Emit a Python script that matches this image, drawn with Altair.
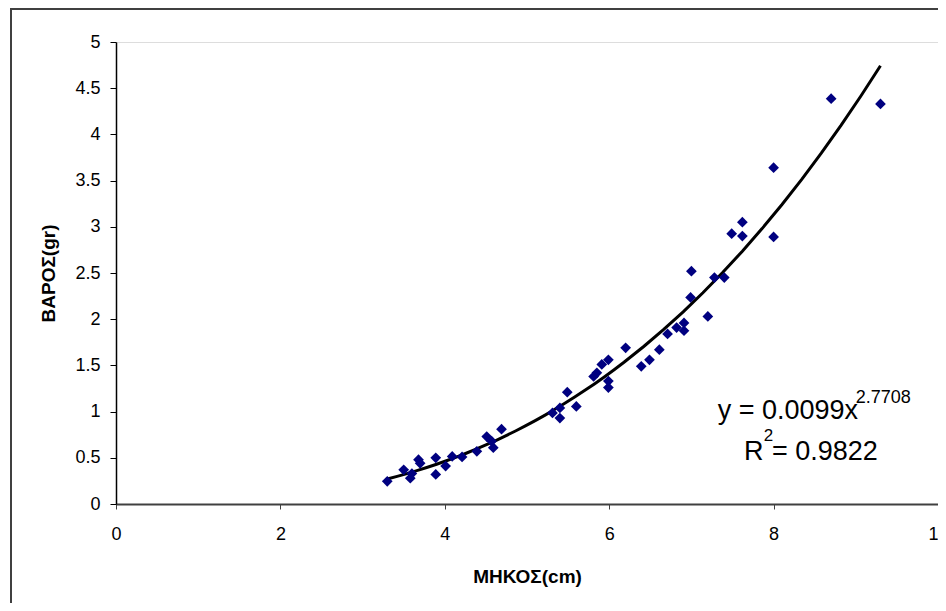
import altair as alt
import pandas as pd

# Data
length_cm = [3.30, 3.50, 3.58, 3.60, 3.68, 3.70, 3.89, 3.89, 4.01, 4.09, 4.21,
             4.39, 4.51, 4.57, 4.59, 4.69, 5.31, 5.40, 5.40, 5.49, 5.60,
             5.81, 5.85, 5.91, 5.99, 5.99, 5.99, 6.20, 6.39, 6.49, 6.61, 6.71,
             6.82, 6.91, 6.91, 6.99, 7.00, 7.20, 7.28, 7.40, 7.49, 7.62, 7.62,
             8.00, 8.00, 8.70, 9.30]
weight_gr = [0.245, 0.37, 0.28, 0.33, 0.48, 0.44, 0.50, 0.32, 0.41, 0.515, 0.51,
             0.57, 0.73, 0.68, 0.61, 0.81, 0.985, 0.93, 1.04, 1.21, 1.056,
             1.38, 1.42, 1.51, 1.56, 1.33, 1.26, 1.69, 1.49, 1.56, 1.67, 1.84,
             1.91, 1.96, 1.875, 2.236, 2.52, 2.03, 2.45, 2.45, 2.925, 2.90, 3.05,
             3.64, 2.89, 4.386, 4.33]

x_ticks = [0, 2, 4, 6, 8, 10]
y_ticks = [0, 0.5, 1, 1.5, 2, 2.5, 3, 3.5, 4, 4.5, 5]

eq_main = "y = 0.0099x"
eq_exp = "2.7708"
r_main = "R"
r_exp = "2"
r_val = " = 0.9822"

df = pd.DataFrame({"x": length_cm, "y": weight_gr})

FONT = "Liberation Sans"

xscale = alt.Scale(domain=[0, 10], nice=False)
yscale = alt.Scale(domain=[0, 5], nice=False)

xaxis = alt.Axis(values=x_ticks, format="~g", title="ΜΗΚΟΣ(cm)", grid=False, labelFlush=False,
                 tickSize=5, tickColor="#404040", labelPadding=16, labelFontSize=18,
                 labelFont=FONT, labelColor="black", domainColor="#404040", domainWidth=2,
                 titleFont=FONT, titleFontSize=19, titleFontWeight="bold", titleColor="black",
                 titleY=78, titleBaseline="alphabetic")
yaxis = alt.Axis(values=y_ticks, format="~g", title="ΒΑΡΟΣ(gr)", grid=False, tickSize=6,
                 tickColor="black", labelPadding=10, labelFontSize=18, labelFont=FONT,
                 labelColor="black", domainColor="black", domainWidth=1.5,
                 titleFont=FONT, titleFontSize=19, titleFontWeight="bold", titleColor="black",
                 titleX=-62, titleY=231, titleAngle=270, titleAlign="center",
                 titleBaseline="alphabetic")

base = alt.Chart(df)

points = base.mark_point(shape="diamond", filled=True, size=115, opacity=1,
                         color="#000080").encode(
    x=alt.X("x:Q", scale=xscale, axis=xaxis),
    y=alt.Y("y:Q", scale=yscale, axis=yaxis),
)

trend = base.transform_regression("x", "y", method="pow").mark_line(
    color="black", strokeWidth=3).encode(
    x=alt.X("x:Q", scale=xscale),
    y=alt.Y("y:Q", scale=yscale),
)

one = alt.Data(values=[{}])

def txt(s, xv, yv, size):
    return alt.Chart(one).mark_text(text=s, font=FONT, fontSize=size, align="left",
                                    baseline="alphabetic", color="black").encode(
        x=alt.datum(xv, scale=xscale), y=alt.datum(yv, scale=yscale))

ann = [
    txt(eq_main, 7.32, 0.92, 27),
    txt(eq_exp, 9.0, 1.09, 18),
    txt(r_main, 7.64, 0.48, 27),
    txt(r_exp, 7.88, 0.68, 17),
    txt(r_val, 7.98, 0.48, 27),
]

border = alt.Chart(one).mark_rect(fill="transparent", stroke="#404040",
                                   strokeWidth=2).encode(
    x=alt.value(-105), x2=alt.value(840), y=alt.value(-33), y2=alt.value(620))

chart = alt.layer(border, trend, points, *ann).properties(
    width=822, height=462,
    autosize=alt.AutoSizeParams(type="none"),
    padding={"left": 108, "top": 34, "right": 0, "bottom": 99},
).configure_view(stroke="#a0a0a0", strokeWidth=1).configure(background="white")

chart.save("out.html", embed_options={"renderer": "svg", "actions": False})
